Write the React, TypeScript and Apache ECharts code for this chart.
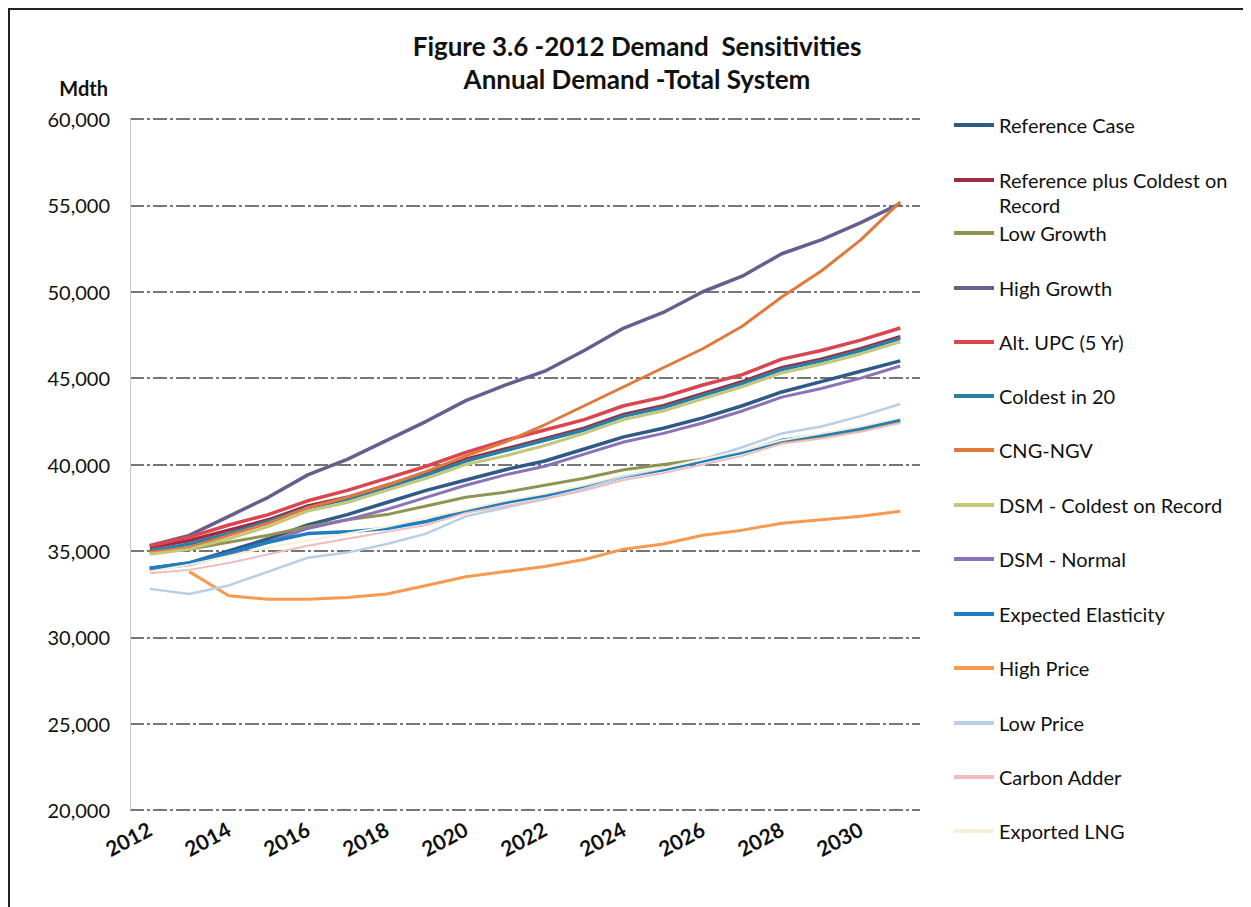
import React, { useEffect, useRef } from "react";
import * as echarts from "echarts";

const years = ["2012","2013","2014","2015","2016","2017","2018","2019","2020","2021","2022","2023","2024","2025","2026","2027","2028","2029","2030","2031"];

const referenceCase = [34000,34300,35000,35700,36500,37100,37800,38500,39100,39700,40200,40900,41600,42100,42700,43400,44200,44800,45400,46000];
const refPlusColdest = [35200,35600,36200,36800,37600,38100,38800,39500,40300,40900,41500,42100,42900,43400,44100,44800,45600,46100,46700,47400];
const lowGrowth = [34900,35100,35500,35900,36400,36800,37100,37600,38100,38400,38800,39200,39700,40000,40300,40700,41300,41600,42000,42500];
const highGrowth = [35300,35900,37000,38100,39400,40300,41400,42500,43700,44600,45400,46600,47900,48800,50000,50900,52200,53000,54000,55100];
const altUpc = [35300,35800,36500,37100,37900,38500,39200,39900,40700,41400,42000,42600,43400,43900,44600,45200,46100,46600,47200,47900];
const coldestIn20 = [35000,35400,36000,36700,37500,38000,38700,39400,40200,40800,41400,42000,42800,43300,44000,44700,45500,46000,46600,47300];
const cngNgv = [34900,35200,35900,36600,37500,38100,38800,39600,40500,41300,42300,43400,44500,45600,46700,48000,49700,51200,53000,55200];
const dsmColdest = [34800,35100,35700,36400,37300,37800,38500,39200,40000,40500,41100,41800,42600,43100,43800,44500,45300,45800,46400,47100];
const dsmNormal = [33900,34200,34800,35500,36300,36800,37400,38100,38800,39400,39900,40600,41300,41800,42400,43100,43900,44400,45000,45700];
const expectedElasticity = [34000,34300,34900,35500,36000,36100,36300,36700,37300,37800,38200,38700,39300,39700,40200,40700,41400,41700,42100,42600];
const highPrice = [null,33800,32400,32200,32200,32300,32500,33000,33500,33800,34100,34500,35100,35400,35900,36200,36600,36800,37000,37300];
const lowPrice = [32800,32500,33000,33800,34600,34900,35400,36000,37000,37500,38000,38600,39300,39800,40300,41000,41800,42200,42800,43500];
const carbonAdder = [33700,33900,34300,34800,35300,35700,36100,36500,37200,37600,38000,38500,39100,39500,40000,40500,41200,41500,41900,42400];
const exportedLng = [33800,34200,34700,35200,35600,36000,36400,36900,37400,37900,38300,38800,39400,39800,40300,40800,41400,41800,42200,42700];

const seriesNames = [
  "Reference Case",
  "Reference plus Coldest on Record",
  "Low Growth",
  "High Growth",
  "Alt. UPC (5 Yr)",
  "Coldest in 20",
  "CNG-NGV",
  "DSM - Coldest on Record",
  "DSM - Normal",
  "Expected Elasticity",
  "High Price",
  "Low Price",
  "Carbon Adder",
  "Exported LNG",
];
const seriesData = [referenceCase, refPlusColdest, lowGrowth, highGrowth, altUpc, coldestIn20, cngNgv, dsmColdest, dsmNormal, expectedElasticity, highPrice, lowPrice, carbonAdder, exportedLng];
const seriesColors = ["#2f5a88","#9e2c3e","#8f9550","#685d8e","#d9464f","#2a7fa6","#e07a3c","#c3c77c","#8a72b8","#1f7ec0","#f7994e","#b9cfe8","#efbcbc","#f5f0d6"];
const seriesWidths = [3.5,3.5,3,3.5,3.5,3.5,3,3,3,3.5,3,2.5,2,2];
const legendTops = [115,170,223,278,332,386,440,495,549,604,658,713,767,821];

const FONT = "Lato, 'Open Sans', sans-serif";

export default function App() {
  const ref = useRef<HTMLDivElement>(null);
  useEffect(() => {
    if (!ref.current) return;
    const chart = echarts.init(ref.current, undefined, { renderer: "svg" });
    const legends = seriesNames.map((name, i) => ({
      data: [name],
      left: 944,
      top: legendTops[i] - 11,
      padding: 0,
      orient: "vertical" as const,
      icon: "rect",
      itemWidth: 40,
      itemHeight: 4,
      itemGap: 0,
      selectedMode: false,
      formatter: (n: string) => (n === "Reference plus Coldest on Record" ? "Reference plus Coldest on" : n),
      textStyle: { fontFamily: FONT, fontSize: 20, color: "#111", lineHeight: 22 },
    }));
    chart.setOption({
      animation: false,
      backgroundColor: "#fff",
      title: {
        text: "Figure 3.6 -2012 Demand  Sensitivities\nAnnual Demand -Total System",
        left: 627,
        top: 19,
        padding: 0,
        textAlign: "center",
        textStyle: { fontFamily: FONT, fontSize: 26, fontWeight: "bold", color: "#111", lineHeight: 33 },
      },
      legend: legends,
      graphic: [
        {
          type: "text",
          left: 989,
          top: 185,
          style: { text: "Record", fontFamily: FONT, fontSize: 20, fill: "#111" },
        },
      ],
      grid: { left: 120, right: 331, top: 109, bottom: 97, containLabel: false },
      xAxis: {
        type: "category",
        data: years,
        boundaryGap: true,
        axisLine: { show: false },
        axisTick: { show: false },
        axisLabel: {
          interval: 1,
          rotate: 28,
          margin: 17,
          fontFamily: FONT,
          fontSize: 21,
          fontWeight: "bold",
          color: "#111",
        },
        splitLine: { show: false },
      },
      yAxis: {
        type: "value",
        min: 20000,
        max: 60000,
        interval: 5000,
        name: "Mdth",
        nameLocation: "end",
        nameGap: 31,
        nameTextStyle: { fontFamily: FONT, fontSize: 20, fontWeight: "bold", color: "#111", align: "right", verticalAlign: "middle", padding: [0, 22, 0, 0] },
        axisLine: { show: true, lineStyle: { color: "#c8c8c8", width: 1 } },
        axisTick: { show: false },
        axisLabel: {
          margin: 20,
          fontFamily: FONT,
          fontSize: 20,
          color: "#111",
          formatter: (v: number) => v.toLocaleString("en-US"),
        },
        splitLine: { show: true, lineStyle: { color: "#4a4a4a", width: 1.5, type: [14, 3, 3, 3] } },
      },
      series: seriesNames.map((name, i) => ({
        name,
        type: "line",
        data: seriesData[i],
        showSymbol: false,
        symbol: "none",
        connectNulls: false,
        color: seriesColors[i],
        lineStyle: { color: seriesColors[i], width: seriesWidths[i] },
        z: 2,
      })),
    });
    return () => chart.dispose();
  }, []);
  return (
    <div style={{ width: 1241, height: 897, borderLeft: "2px solid #222", borderTop: "2px solid #222" }}>
      <div ref={ref} style={{ width: 1241, height: 897 }} />
    </div>
  );
}
